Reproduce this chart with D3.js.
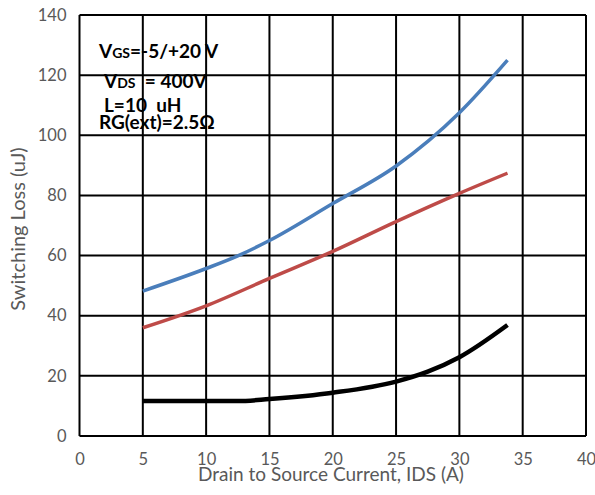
<!DOCTYPE html>
<html>
<head>
<meta charset="utf-8">
<script src="https://cdn.jsdelivr.net/npm/d3@7"></script>
<style>
  body { margin: 0; background: #fff; }
  svg { display: block; }
</style>
</head>
<body>
<svg id="chart"></svg>
<script>
const width = 595;
const height = 495;

// data
const xTicks = [0, 5, 10, 15, 20, 25, 30, 35, 40];
const yTicks = [0, 20, 40, 60, 80, 100, 120, 140];

const blueIds = [5, 10, 12.5, 15, 20, 25, 30, 33.8];
const blueLoss = [48.2, 55.7, 59.9, 65.0, 77.3, 89.8, 107.5, 125.0];

const redIds = [5, 10, 15, 20, 25, 30, 33.8];
const redLoss = [36.0, 43.3, 52.4, 61.4, 71.3, 80.7, 87.4];

const blackIds = [5, 10, 12.5, 15, 20, 25, 27.5, 30, 33.8];
const blackLoss = [11.6, 11.6, 11.6, 12.3, 14.4, 18.1, 21.4, 26.2, 36.9];

const series = [
  { ids: blueIds, loss: blueLoss, color: '#4a7ebb', w: 3.5 },
  { ids: redIds, loss: redLoss, color: '#be4b48', w: 3.5 },
  { ids: blackIds, loss: blackLoss, color: '#000', w: 4.5 },
];

const plot = { left: 79.5, right: 586, top: 15, bottom: 436 };

const svg = d3.select('#chart').attr('width', width).attr('height', height);

const x = d3.scaleLinear().domain([0, 40]).range([plot.left, plot.right]);
const y = d3.scaleLinear().domain([0, 140]).range([plot.bottom, plot.top]);

const FONT = 'Lato, "Open Sans", sans-serif';

// annotation text (drawn under the grid, like the original)
const notes = svg.append('g')
  .attr('font-family', FONT)
  .attr('font-weight', 'bold')
  .attr('fill', '#000');

function note(xp, yp, parts) {
  const t = notes.append('text').attr('x', xp).attr('y', yp);
  parts.forEach(p => {
    t.append('tspan').attr('font-size', p[1]).text(p[0]);
  });
}
note(99, 58, [['V', 19], ['GS', 14], ['=-5/+20 V', 19]]);
note(104, 88, [['V', 19], ['DS', 14], ['\u00a0\u00a0= 400V', 19]]);
note(104, 112, [['L=10\u00a0\u00a0uH', 19]]);
note(99, 129, [['RG(ext)=2.5\u03a9', 19]]);

// grid
const grid = svg.append('g').attr('stroke', '#000').attr('stroke-width', 2);
grid.selectAll('line.v').data(xTicks).join('line')
  .attr('class', 'v')
  .attr('x1', d => x(d)).attr('x2', d => x(d))
  .attr('y1', plot.top).attr('y2', plot.bottom);
grid.selectAll('line.h').data(yTicks).join('line')
  .attr('class', 'h')
  .attr('x1', plot.left).attr('x2', plot.right)
  .attr('y1', d => y(d)).attr('y2', d => y(d));

// axes (labels only)
const xAxis = svg.append('g')
  .attr('transform', `translate(0,${plot.bottom})`)
  .call(d3.axisBottom(x).tickValues(xTicks).tickSize(0).tickFormat(d3.format('d')));
xAxis.select('.domain').remove();
xAxis.selectAll('text')
  .attr('y', 28.5).attr('dy', 0)
  .attr('font-family', FONT).attr('font-size', 16.5).attr('fill', '#595959');

const yAxis = svg.append('g')
  .attr('transform', `translate(${plot.left},0)`)
  .call(d3.axisLeft(y).tickValues(yTicks).tickSize(0).tickPadding(13).tickFormat(d3.format('d')));
yAxis.select('.domain').remove();
yAxis.selectAll('text')
  .attr('font-family', FONT).attr('font-size', 16.5).attr('fill', '#595959');

svg.append('text')
  .attr('x', 331).attr('y', 481)
  .attr('text-anchor', 'middle')
  .attr('font-family', FONT).attr('font-size', 19).attr('fill', '#595959')
  .text('Drain to Source Current, IDS (A)');

svg.append('text')
  .attr('transform', 'translate(25,229) rotate(-90)')
  .attr('text-anchor', 'middle')
  .attr('font-family', FONT).attr('font-size', 20).attr('fill', '#595959')
  .text('Switching Loss (uJ)');

// curves
const line = d3.line()
  .x(d => x(d[0]))
  .y(d => y(d[1]))
  .curve(d3.curveMonotoneX);

series.forEach(s => {
  svg.append('path')
    .datum(s.ids.map((v, i) => [v, s.loss[i]]))
    .attr('fill', 'none')
    .attr('stroke', s.color)
    .attr('stroke-width', s.w)
    .attr('d', line);
});
</script>
</body>
</html>
